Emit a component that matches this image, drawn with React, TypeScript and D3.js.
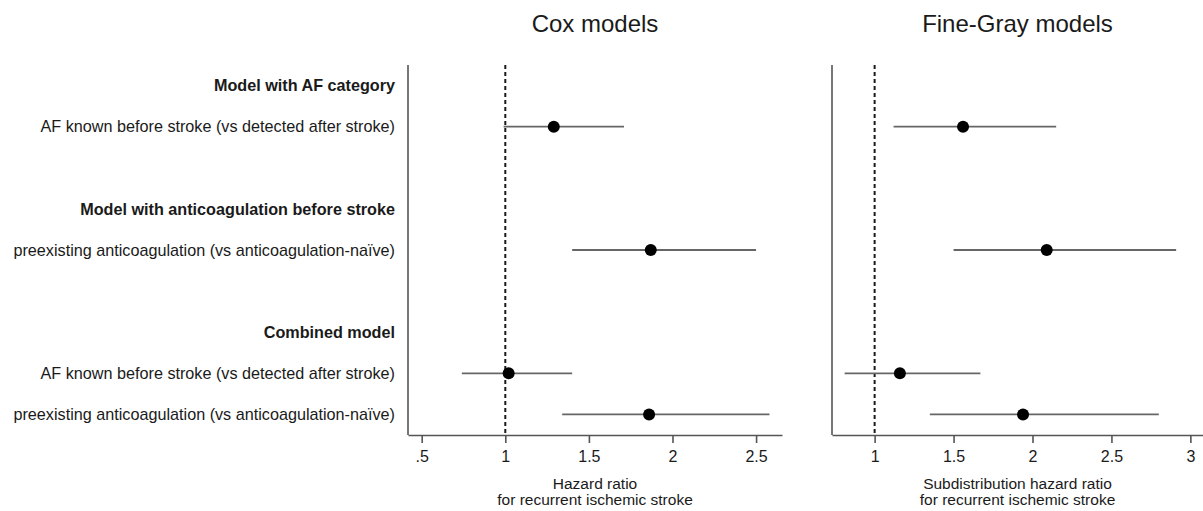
import {useEffect, useRef} from 'react';
import * as d3 from 'd3';

// rows of the forest plot, top to bottom (blank keys are spacer rows)
const rowKeys = ['hdrAF', 'afKnown', 'gap1', 'hdrAnti', 'preexisting', 'gap2', 'hdrComb', 'combAF', 'combPre'];
const rowLabels = [
    'Model with AF category',
    'AF known before stroke (vs detected after stroke)',
    '',
    'Model with anticoagulation before stroke',
    'preexisting anticoagulation (vs anticoagulation-naïve)',
    '',
    'Combined model',
    'AF known before stroke (vs detected after stroke)',
    'preexisting anticoagulation (vs anticoagulation-naïve)',
];
const boldRows = ['hdrAF', 'hdrAnti', 'hdrComb'];

// estimates, in the order of these rows
const estimateRows = ['afKnown', 'preexisting', 'combAF', 'combPre'];

const coxHR = [1.29, 1.87, 1.02, 1.86];
const coxLower = [0.99, 1.4, 0.74, 1.34];
const coxUpper = [1.71, 2.5, 1.4, 2.58];

const fgHR = [1.56, 2.09, 1.16, 1.94];
const fgLower = [1.12, 1.5, 0.81, 1.35];
const fgUpper = [2.15, 2.91, 1.67, 2.8];

const coxTicks = [0.5, 1, 1.5, 2, 2.5];
const fgTicks = [1, 1.5, 2, 2.5, 3];

const FONT = '"Liberation Sans", Arial, Helvetica, sans-serif';

export default function App() {
    const ref = useRef<SVGSVGElement>(null);

    useEffect(() => {
        const width = 1203;
        const height = 511;
        const top = 65;
        const bottom = 435;

        const svg = d3.select(ref.current);
        svg.selectAll('*').remove();
        svg.attr('viewBox', `0 0 ${width} ${height}`);

        const y = d3.scalePoint<string>().domain(rowKeys).range([top, bottom]).padding(0.5);

        // row labels
        svg
            .append('g')
            .selectAll('text')
            .data(rowKeys)
            .join('text')
            .attr('x', 395)
            .attr('y', (d) => y(d) as number)
            .attr('dy', '0.35em')
            .attr('text-anchor', 'end')
            .attr('font-family', FONT)
            .attr('font-size', 16.2)
            .attr('font-weight', (d) => (boldRows.includes(d) ? 'bold' : 'normal'))
            .attr('fill', '#1a1a1a')
            .text((d, i) => rowLabels[i]);

        const fmt = (v: number) => d3.format('~g')(v).replace(/^0\./, '.');

        const drawPanel = (
            x: d3.ScaleLinear<number, number>,
            ticks: number[],
            title: string,
            axisTitle: string[],
            hr: number[],
            lower: number[],
            upper: number[]
        ) => {
            const [x0, x1] = x.range();
            const cx = (x0 + x1) / 2;
            const g = svg.append('g');

            g.append('text')
                .attr('x', cx)
                .attr('y', 32)
                .attr('text-anchor', 'middle')
                .attr('font-family', FONT)
                .attr('font-size', 24)
                .attr('fill', '#1a1a1a')
                .text(title);

            // left frame line
            g.append('line')
                .attr('x1', x0)
                .attr('x2', x0)
                .attr('y1', top)
                .attr('y2', bottom)
                .attr('stroke', '#555')
                .attr('stroke-width', 1.6);

            const axis = g
                .append('g')
                .attr('transform', `translate(0, ${bottom})`)
                .call(
                    d3
                        .axisBottom(x)
                        .tickValues(ticks)
                        .tickSize(8)
                        .tickSizeOuter(0)
                        .tickPadding(8)
                        .tickFormat((d) => fmt(d as number))
                );
            axis.select('.domain').attr('stroke', '#555').attr('stroke-width', 1.6);
            axis.selectAll('.tick line').attr('stroke', '#555').attr('stroke-width', 1.6);
            axis
                .selectAll('.tick text')
                .attr('font-family', FONT)
                .attr('font-size', 16)
                .attr('fill', '#1a1a1a');

            // null line at HR = 1
            g.append('line')
                .attr('x1', x(1))
                .attr('x2', x(1))
                .attr('y1', top)
                .attr('y2', bottom)
                .attr('stroke', '#1a1a1a')
                .attr('stroke-width', 2)
                .attr('stroke-dasharray', '4,3');

            // confidence intervals
            g.selectAll('.ci')
                .data(estimateRows)
                .join('line')
                .attr('class', 'ci')
                .attr('x1', (d, i) => x(lower[i]))
                .attr('x2', (d, i) => x(upper[i]))
                .attr('y1', (d) => y(d) as number)
                .attr('y2', (d) => y(d) as number)
                .attr('stroke', '#666')
                .attr('stroke-width', 1.8);

            // point estimates
            g.selectAll('.pt')
                .data(estimateRows)
                .join('circle')
                .attr('class', 'pt')
                .attr('cx', (d, i) => x(hr[i]))
                .attr('cy', (d) => y(d) as number)
                .attr('r', 6)
                .attr('fill', '#000');

            g.append('g')
                .selectAll('text')
                .data(axisTitle)
                .join('text')
                .attr('x', cx)
                .attr('y', (d, i) => 488.5 + i * 16.5)
                .attr('text-anchor', 'middle')
                .attr('font-family', FONT)
                .attr('font-size', 15.5)
                .attr('fill', '#1a1a1a')
                .text((d) => d);
        };

        const xCox = d3.scaleLinear().domain([0.418, 2.655]).range([408, 782]);
        const xFg = d3.scaleLinear().domain([0.73, 3.08]).range([832, 1203]);

        drawPanel(
            xCox,
            coxTicks,
            'Cox models',
            ['Hazard ratio', 'for recurrent ischemic stroke'],
            coxHR,
            coxLower,
            coxUpper
        );
        drawPanel(
            xFg,
            fgTicks,
            'Fine-Gray models',
            ['Subdistribution hazard ratio', 'for recurrent ischemic stroke'],
            fgHR,
            fgLower,
            fgUpper
        );
    }, []);

    return (
        <svg
            ref={ref}
            width={1203}
            height={511}
            style={{position: 'absolute', left: 0, top: 0, background: '#fff', display: 'block'}}
        ></svg>
    );
}
